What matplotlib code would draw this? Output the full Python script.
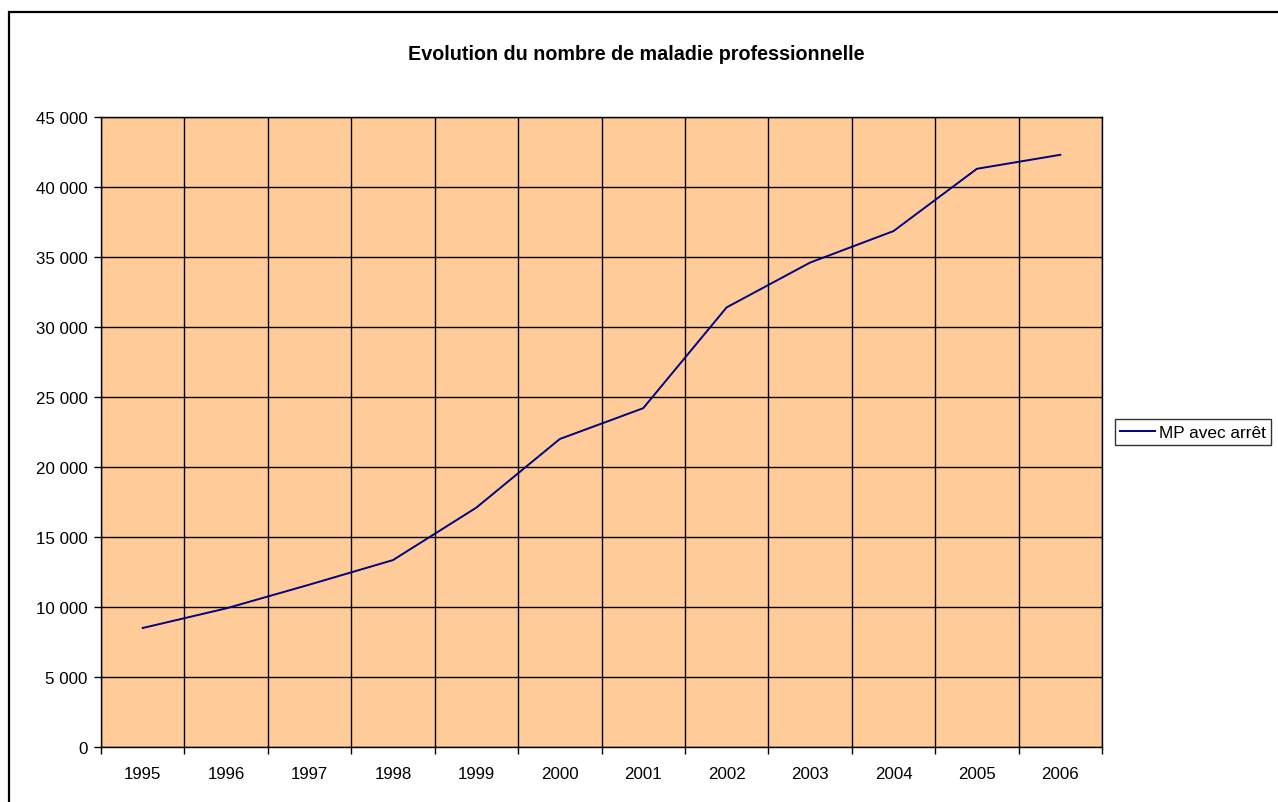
import numpy as np
import matplotlib
matplotlib.use('Agg')
import matplotlib.pyplot as plt
from matplotlib.patches import Rectangle
from matplotlib.ticker import FuncFormatter, MultipleLocator

# ── data ──────────────────────────────────────────────────────────────────────
years = ['1995', '1996', '1997', '1998', '1999', '2000',
         '2001', '2002', '2003', '2004', '2005', '2006']
mp_avec_arret = [8500, 9900, 11600, 13350, 17100, 22000,
                 24200, 31400, 34600, 36850, 41300, 42300]

TITLE = 'Evolution du nombre de maladie professionnelle'
SERIES_LABEL = 'MP avec arrêt'

# ── figure ────────────────────────────────────────────────────────────────────
plt.rcParams['font.family'] = ['Liberation Sans', 'DejaVu Sans']
W, H = 1278, 803
fig = plt.figure(figsize=(W / 100, H / 100), dpi=100)

# outer chart frame (only top/left edges fall inside the picture)
fig.patches.append(Rectangle((9 / W, -0.1), 1.2, (H - 13) / H + 0.1,
                             transform=fig.transFigure, fill=False,
                             edgecolor='black', linewidth=1.6))

ax = fig.add_axes([101 / W, (H - 748) / H, 1001 / W, 630 / H])
ax.set_facecolor('#FFCC99')

x = np.arange(len(years))
line, = ax.plot(x, mp_avec_arret, color='#000080', linewidth=1.4, label=SERIES_LABEL)

ax.set_xlim(-0.5, len(years) - 0.5)
ax.set_ylim(0, 45000)

# category labels centred, ticks/gridlines at category boundaries
ax.set_xticks(x)
ax.set_xticklabels(years, fontsize=12.2)
ax.set_xticks(np.arange(len(years) + 1) - 0.5, minor=True)
ax.tick_params(axis='x', which='major', length=0, pad=14)
ax.tick_params(axis='x', which='minor', length=5, width=1, direction='out', color='black')
ax.grid(True, axis='x', which='minor', color='black', linewidth=1)

ax.yaxis.set_major_locator(MultipleLocator(5000))
ax.yaxis.set_major_formatter(FuncFormatter(lambda v, p: f'{v:,.0f}'.replace(',', ' ')))
ax.tick_params(axis='y', length=5, width=1, direction='out', pad=4.5, labelsize=12.2)
ax.grid(True, axis='y', which='major', color='black', linewidth=1)
ax.set_axisbelow(True)

for side in ['left', 'bottom', 'right', 'top']:
    ax.spines[side].set_color('black')
    ax.spines[side].set_linewidth(1)

fig.text(636 / W, 1 - 54 / H, TITLE, ha='center', va='center',
         fontsize=14.2, fontweight='bold')

leg = fig.legend(handles=[line], loc='center left',
                 bbox_to_anchor=(1115 / W, 1 - 433 / H),
                 fontsize=12.4, frameon=True, fancybox=False,
                 handlelength=2.0, handletextpad=0.25, borderpad=0.3,
                 borderaxespad=0)
leg.get_frame().set_edgecolor('black')
leg.get_frame().set_linewidth(1)

fig.savefig('out.png', dpi=100, facecolor='white')
